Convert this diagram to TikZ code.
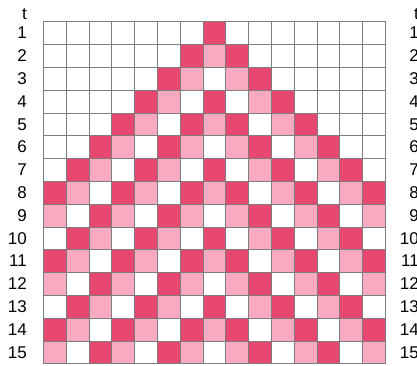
\documentclass[tikz,border=0pt]{standalone}
\usepackage{fontspec}
\setmainfont{Liberation Sans}
\definecolor{cadark}{RGB}{230,72,112}
\definecolor{calight}{RGB}{247,170,192}
\definecolor{cagrid}{RGB}{125,125,125}

\begin{document}
\begin{tikzpicture}[
  x=1pt, y=1pt,
  cellbox/.style={draw=cagrid, line width=0.6pt, rectangle, inner sep=0pt,
                  minimum size=22.8pt},
  tlabel/.style={anchor=east, inner sep=0pt,
                 font=\fontsize{17}{17}\selectfont}
]
\useasboundingbox (0,0) rectangle (417,365);
\clip (0,0) rectangle (417,365);

% cells: once reached, each cell cycles dark -> light -> white
\foreach \t in {1,...,15} {
  \foreach \c in {1,...,15} {
    \pgfmathtruncatemacro{\d}{abs(\c-8)}
    \pgfmathtruncatemacro{\s}{\t>\d ? mod(\t-1-\d,3)+1 : 0}
    \ifcase\s \def\cs{white}\or \def\cs{cadark}\or \def\cs{calight}\or \def\cs{white}\fi
    \node[cellbox, fill=\cs] (cell-\t-\c)
      at ({43.3+(\c-0.5)*22.8}, {343.3-(\t-0.5)*22.8}) {};
  }
}

% time axis, left and (cut off) right
\node[anchor=base east, inner sep=0pt, font=\fontsize{17}{17}\selectfont]
  (tleft) at (27,345) {t};
\node[anchor=base east, inner sep=0pt, font=\fontsize{17}{17}\selectfont]
  (tright) at (419,345) {t};
\foreach \t in {1,...,15} {
  \node[tlabel] (left-\t) at (27, {343.3-(\t-0.5)*22.8}) {\t};
  \node[tlabel] (right-\t) at (419, {343.3-(\t-0.5)*22.8}) {\t};
}
\end{tikzpicture}
\end{document}
